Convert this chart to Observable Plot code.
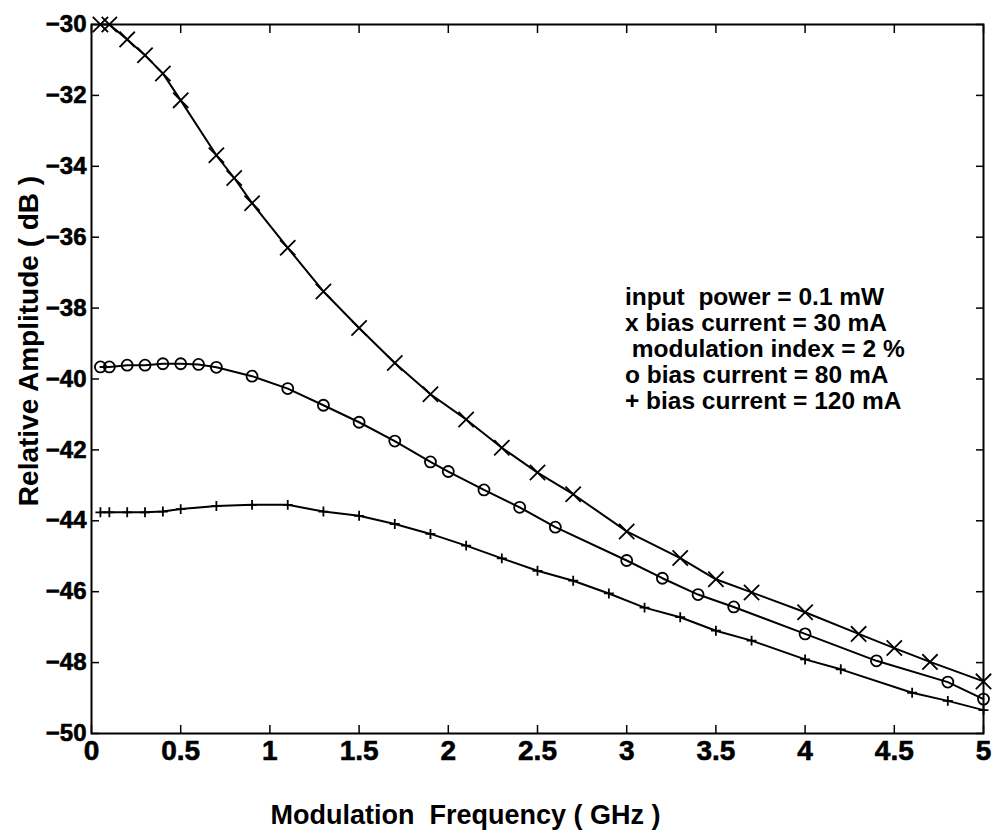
<!DOCTYPE html>
<html><head><meta charset="utf-8">
<script src="https://cdn.jsdelivr.net/npm/d3@7"></script>
<script src="https://cdn.jsdelivr.net/npm/@observablehq/plot@0.6"></script>
<style>
  html,body{margin:0;padding:0;background:#fff;}
  g[aria-label="y-axis tick label"] text,
  g[aria-label="x-axis tick label"] text,
  g[aria-label="legend"] text,
  g[aria-label="xlabel"] text,
  g[aria-label="ylabel"] text { stroke: black; stroke-width: 0.6px; }
  g[aria-label="ylabel"] text { letter-spacing: 0.8px; }
</style>
</head><body><div id="chart"></div>
<script>
// Series: x markers, bias current 30 mA
const freq30 = [0.05, 0.1, 0.2, 0.3, 0.4, 0.5, 0.7, 0.8, 0.9, 1.1, 1.3, 1.5, 1.7, 1.9, 2.1, 2.3, 2.5, 2.7, 3.0, 3.3, 3.5, 3.7, 4.0, 4.3, 4.5, 4.7, 5.0];
const amp30  = [-30.0, -30.0, -30.42, -30.87, -31.38, -32.14, -33.69, -34.33, -35.04, -36.3, -37.53, -38.56, -39.55, -40.43, -41.14, -41.94, -42.64, -43.25, -44.3, -45.05, -45.65, -46.02, -46.58, -47.19, -47.59, -47.98, -48.53];
// Series: o markers, bias current 80 mA
const freq80 = [0.05, 0.1, 0.2, 0.3, 0.4, 0.5, 0.6, 0.7, 0.9, 1.1, 1.3, 1.5, 1.7, 1.9, 2.0, 2.2, 2.4, 2.6, 3.0, 3.2, 3.4, 3.6, 4.0, 4.4, 4.8, 5.0];
const amp80  = [-39.66, -39.66, -39.61, -39.61, -39.57, -39.57, -39.59, -39.67, -39.92, -40.27, -40.74, -41.22, -41.75, -42.34, -42.61, -43.13, -43.62, -44.18, -45.12, -45.62, -46.08, -46.43, -47.19, -47.95, -48.55, -49.03];
// Series: + markers, bias current 120 mA
const freq120 = [0.05, 0.1, 0.2, 0.3, 0.4, 0.5, 0.7, 0.9, 1.1, 1.3, 1.5, 1.7, 1.9, 2.1, 2.3, 2.5, 2.7, 2.9, 3.1, 3.3, 3.5, 3.7, 4.0, 4.2, 4.6, 4.8, 5.0];
const amp120  = [-43.76, -43.76, -43.76, -43.76, -43.74, -43.67, -43.58, -43.55, -43.55, -43.74, -43.86, -44.09, -44.37, -44.70, -45.06, -45.41, -45.69, -46.05, -46.45, -46.72, -47.10, -47.38, -47.91, -48.19, -48.85, -49.08, -49.34];

const xTicks = [0, 0.5, 1, 1.5, 2, 2.5, 3, 3.5, 4, 4.5, 5];
const yTicks = [-50, -48, -46, -44, -42, -40, -38, -36, -34, -32, -30];
const xLabel = "Modulation  Frequency ( GHz )";
const yLabel = "Relative Amplitude ( dB )";
const legendLines = [
  "input  power = 0.1 mW",
  "x bias current = 30 mA",
  " modulation index = 2 %",
  "o bias current = 80 mA",
  "+ bias current = 120 mA"
];
const legendAt = {x: 2.99, y: -37.4};

const toRows = (fs, as) => fs.map((f, i) => ({f, a: as[i]}));
const s30 = toRows(freq30, amp30);
const s80 = toRows(freq80, amp80);
const s120 = toRows(freq120, amp120);

const boldFont = "'Liberation Sans', Arial, Helvetica, sans-serif";
const nb = s => s.replace(/ /g, "\u00a0");

const chart = Plot.plot({
  width: 997,
  height: 839,
  marginLeft: 91,
  marginRight: 14,
  marginTop: 24,
  marginBottom: 106,
  x: {domain: [0, 5]},
  y: {domain: [-50, -30]},
  style: {background: "white", color: "black", fontFamily: boldFont},
  marks: [
    Plot.frame({stroke: "black", strokeWidth: 2}),
    Plot.axisX(xTicks, {anchor: "bottom", tickSize: -8, tickPadding: 15, strokeWidth: 1.5,
      tickFormat: d => String(d), fontSize: 28, fontWeight: "bold", fontFamily: boldFont, label: null}),
    Plot.axisX(xTicks, {anchor: "top", tickSize: -8, strokeWidth: 1.5, tickFormat: () => "", label: null}),
    Plot.axisY(yTicks, {anchor: "left", tickSize: -8, tickPadding: 13, strokeWidth: 1.5,
      fontSize: 24, fontWeight: "bold", fontFamily: boldFont, label: null}),
    Plot.axisY(yTicks, {anchor: "right", tickSize: -8, strokeWidth: 1.5, tickFormat: () => "", label: null}),

    Plot.line(s30, {x: "f", y: "a", stroke: "black", strokeWidth: 2}),
    Plot.line(s80, {x: "f", y: "a", stroke: "black", strokeWidth: 2}),
    Plot.line(s120, {x: "f", y: "a", stroke: "black", strokeWidth: 2}),

    Plot.dot(s30, {x: "f", y: "a", symbol: "times", r: 7, stroke: "black", strokeWidth: 1.8}),
    Plot.dot(s80, {x: "f", y: "a", symbol: "circle", r: 5.5, stroke: "black", fill: "none", strokeWidth: 1.8}),
    Plot.dot(s120, {x: "f", y: "a", symbol: "plus", r: 3.3, stroke: "black", strokeWidth: 1.8}),

    Plot.text([legendLines.map(nb).join("\n")], {
      ariaLabel: "legend",
      x: () => legendAt.x, y: () => legendAt.y, text: d => d,
      textAnchor: "start", lineAnchor: "top", lineHeight: 1.06,
      fontSize: 24.5, fontWeight: "bold", fontFamily: boldFont, fill: "black"
    }),
    Plot.text([nb(xLabel)], {
      ariaLabel: "xlabel",
      frameAnchor: "bottom", dx: -72, dy: 82, lineAnchor: "middle", textAnchor: "middle", text: d => d,
      fontSize: 27, fontWeight: "bold", fontFamily: boldFont, fill: "black"
    }),
    Plot.text([yLabel], {
      ariaLabel: "ylabel",
      frameAnchor: "left", dx: -62, dy: -38, rotate: -90, textAnchor: "middle", lineAnchor: "middle", text: d => d,
      fontSize: 28, fontWeight: "bold", fontFamily: boldFont, fill: "black"
    })
  ]
});
document.getElementById("chart").appendChild(chart);
</script>
</body></html>
